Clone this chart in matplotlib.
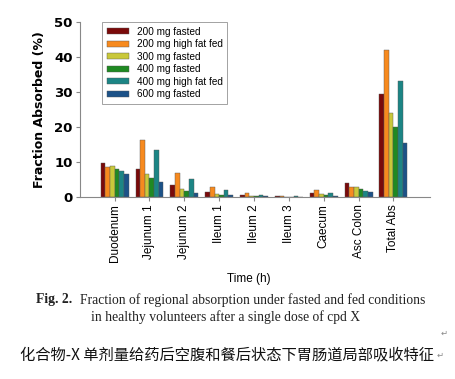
import numpy as np
import matplotlib
matplotlib.use('Agg')
import matplotlib.pyplot as plt

regions = ['Duodenum', 'Jejunum 1', 'Jejunum 2', 'Ileum 1', 'Ileum 2',
           'Ileum 3', 'Caecum', 'Asc Colon', 'Total Abs']
series_names = ['200 mg fasted', '200 mg high fat fed', '300 mg fasted',
                '400 mg fasted', '400 mg high fat fed', '600 mg fasted']
fasted_200 = [9.7, 8.1, 3.4, 1.5, 0.6, 0.2, 1.3, 4.1, 29.5]
fed_200 = [8.5, 16.3, 6.8, 2.8, 1.2, 0.4, 1.9, 2.9, 41.8]
fasted_300 = [8.8, 6.6, 2.3, 1.0, 0.4, 0.1, 0.9, 2.9, 24.0]
fasted_400 = [7.9, 5.3, 1.8, 0.6, 0.3, 0.1, 0.5, 2.2, 20.1]
fed_400 = [7.5, 13.5, 5.2, 1.9, 0.7, 0.3, 1.3, 1.7, 33.2]
fasted_600 = [6.6, 4.2, 1.3, 0.6, 0.2, 0.1, 0.4, 1.5, 15.4]
yticks = [0, 10, 20, 30, 40, 50]

colors = ['#7a0a0a', '#f78a1e', '#c9c83a', '#1f8a22', '#1c8585', '#1c5288']

fig = plt.figure(figsize=(4.56, 3.79), dpi=100)
ax = fig.add_axes([0.175, 0.48, 0.768, 0.463])

all_series = [fasted_200, fed_200, fasted_300, fasted_400, fed_400, fasted_600]
x = np.arange(len(regions))
w = 0.8 / len(all_series)
for i, vals in enumerate(all_series):
    ax.bar(x - 0.4 + w * (i + 0.5), vals, width=w, color=colors[i],
           edgecolor='#555555', linewidth=0.3, label=series_names[i])

ax.set_xlim(-1.0, 9.05)
ax.set_ylim(0, 50)
ax.set_yticks(yticks)
ax.set_yticklabels([str(t) for t in yticks], fontweight='bold', fontsize=9.5)
ax.set_xticks(x)
ax.set_xticklabels(regions, rotation=90, fontsize=8.5, family='Liberation Sans')
ax.spines['top'].set_visible(False)
ax.spines['right'].set_visible(False)
for s in ['left', 'bottom']:
    ax.spines[s].set_color('#888888')
    ax.spines[s].set_linewidth(0.8)
ax.tick_params(axis='both', length=3, color='#888888', pad=2)
ax.set_ylabel('Fraction Absorbed (%)', fontweight='bold', fontsize=9, labelpad=6)

leg = ax.legend(loc='upper left', bbox_to_anchor=(0.05, 1.025),
                frameon=True, fancybox=False, edgecolor='#777777',
                handlelength=2.2, handleheight=0.5, labelspacing=0.25,
                borderpad=0.45, prop={'family': 'Liberation Sans', 'size': 7.2})
leg.get_frame().set_linewidth(0.6)

fig.text(0.545, 1 - 279 / 379, 'Time (h)', ha='center', va='center',
         fontsize=8.5, family='Liberation Sans')

fig.text(36 / 456, 1 - 300 / 379, 'Fig. 2.', ha='left', va='center',
         fontsize=9.8, fontweight='bold', family='Liberation Serif', color='#222222')
fig.text(80 / 456, 1 - 300 / 379,
         'Fraction of regional absorption under fasted and fed conditions',
         ha='left', va='center', fontsize=9.8, family='Liberation Serif', color='#222222')
fig.text(91 / 456, 1 - 317 / 379,
         'in healthy volunteers after a single dose of cpd X',
         ha='left', va='center', fontsize=9.8, family='Liberation Serif', color='#222222')
fig.text(444 / 456, 1 - 333 / 379, '\u21b5', ha='center', va='center',
         fontsize=6, color='#888888', family='DejaVu Sans')

fig.text(20 / 456, 1 - 355 / 379,
         '化合物-X 单剂量给药后空腹和餐后状态下胃肠道局部吸收特征',
         ha='left', va='center', fontsize=11,
         family=['Noto Sans CJK SC', 'DejaVu Sans'], color='#111111')
fig.text(440 / 456, 1 - 355 / 379, '\u21b5', ha='center', va='center',
         fontsize=6, color='#888888', family='DejaVu Sans')

fig.savefig('out.png', dpi=100)
